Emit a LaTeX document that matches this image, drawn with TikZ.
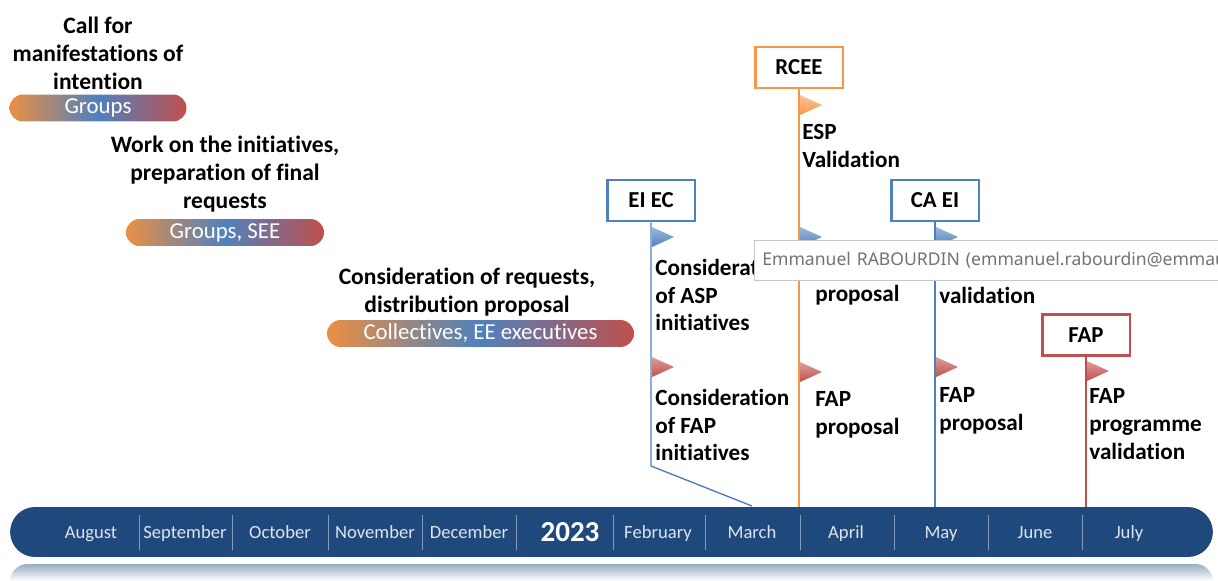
\documentclass[tikz,border=0pt]{standalone}
\usepackage{fontspec}
\setmainfont{Carlito}[Ligatures=NoCommon]
\newfontfamily\tipfont{Noto Sans}
\definecolor{barC}{HTML}{1F497D}
\definecolor{orgC}{HTML}{F79646}
\definecolor{bluC}{HTML}{4F81BD}
\definecolor{redC}{HTML}{C0504D}
\begin{document}
\begin{tikzpicture}[x=0.02cm,y=-0.02cm,
    stage/.style={font=\fontsize{13.4}{15.9}\selectfont\bfseries, align=center, inner sep=0pt},
    pill/.style={left color=orgC!95!black, right color=redC, middle color=bluC,
      rounded corners=0.27cm, minimum height=0.54cm, text=white,
      font=\fontsize{13}{15}\selectfont, inner sep=0pt},
    actor/.style={draw=#1, line width=1.7pt, fill=white, minimum width=1.76cm,
      minimum height=0.82cm, font=\fontsize{13}{15}\selectfont\bfseries},
    note/.style={font=\fontsize{13.2}{15.9}\selectfont\bfseries, align=left,
      anchor=west, inner sep=0pt},
    month/.style={text=white!85!barC, font=\fontsize{10.6}{12}\selectfont,
      text height=1.6ex, text depth=0.45ex},
    pics/pennant/.style={code={
      \shade[top color=#1!55!white, bottom color=#1] (0,0) -- (0,20) -- (22,10) -- cycle;}}]
  \useasboundingbox (0,0) rectangle (1218,581);

  % timeline
  \shade[top color=barC!45!white, bottom color=white, rounded corners=0.35cm]
    (10,581) -- (10,564) -- (1213,564) [sharp corners] -- (1213,581) -- cycle;
  \node[fill=barC, rounded corners=0.5cm, minimum width=24.06cm, minimum height=1cm]
    (bar) at (611.5,532) {};
  \foreach \sx in {139,232,328,422,516,613,705,800,894,988,1082}
    \draw[barC!55!white, line width=0.5pt] (\sx,515) -- (\sx,550);
  \foreach \mx/\mname in {91/August,185/September,280/October,375/November,469/December,
      658/February,752/March,846/April,941/May,1035/June,1129/July}
    \node[month] (m-\mname) at (\mx,533.5) {\mname};
  \node[text=white, font=\fontsize{16.5}{18}\selectfont\bfseries] (year) at (570,532) {2023};

  % phases
  \node[stage] (call) at (98,53) {Call for\\manifestations of\\intention};
  \node[pill, minimum width=3.54cm] (groups) at (98,108) {Groups};
  \node[stage] (work) at (225,174) {Work on the initiatives,\\preparation of final\\requests};
  \node[pill, minimum width=3.96cm] (groupssee) at (225,232.5) {Groups, SEE};
  \node[stage] (consid) at (467,292) {Consideration of requests,\\distribution proposal};
  \node[pill, minimum width=6.14cm] (collect) at (480.5,333.5) {Collectives, EE executives};

  % actors
  \node[actor=bluC] (eiec) at (651,200.5) {EI EC};
  \node[actor=orgC] (rcee) at (799,67.5) {RCEE};
  \node[actor=bluC] (caei) at (935,200.5) {CA EI};
  \node[actor=redC] (fap) at (1086,335) {FAP};

  \coordinate (eiec-k) at (651,466);
  \coordinate (eiec-e) at (752,506);
  \draw[bluC, line width=0.8pt] (eiec) -- (eiec-k) -- (eiec-e);
  \draw[orgC, line width=0.8pt] (rcee) -- (rcee |- bar.north);
  \draw[bluC, line width=0.8pt] (caei) -- (caei |- bar.north);
  \draw[redC, line width=0.8pt] (fap) -- (fap |- bar.north);

  % milestones
  \pic at (652,227) {pennant=bluC};
  \pic at (652,357) {pennant=redC};
  \pic at (800,95) {pennant=orgC};
  \pic at (800,227) {pennant=bluC};
  \pic at (800,362) {pennant=redC};
  \pic at (936,227) {pennant=bluC};
  \pic at (936,357) {pennant=redC};
  \pic at (1087,361) {pennant=redC};

  \node[note] (asp-init) at (655,295) {Consideration\\of ASP\\initiatives};
  \node[note] (fap-init) at (655,425) {Consideration\\of FAP\\initiatives};
  \node[note] (esp-val) at (802,146) {ESP\\Validation};
  \node[note] (rcee-prop) at (815,295) {proposal};
  \node[note] (rcee-fap) at (815,415) {FAP\\proposal};
  \node[note] (caei-val) at (939,295) {validation};
  \node[note] (caei-fap) at (939,411) {FAP\\proposal};
  \node[note] (fap-val) at (1089,424) {FAP\\programme\\validation};

  % tooltip
  \node[draw=black!22, fill=white, anchor=west, minimum height=0.8cm, text width=12cm,
    inner xsep=0.16cm, text=black!55, font=\tipfont\fontsize{10}{12}\selectfont]
    (tip) at (754,260) {Emmanuel RABOURDIN (emmanuel.rabourdin@emmau};
\end{tikzpicture}
\end{document}
